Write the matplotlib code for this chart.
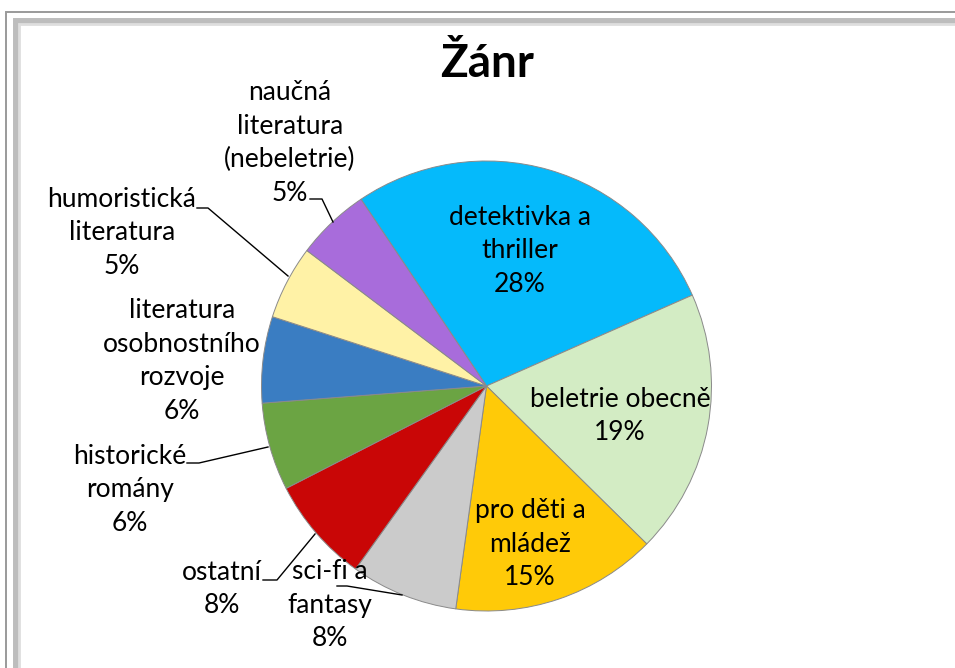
import matplotlib
matplotlib.use("Agg")
import matplotlib.pyplot as plt
from matplotlib.patches import Rectangle

# ---- data ----
categories = ["detektivka a\nthriller", "beletrie obecně", "pro děti a\nmládež",
              "sci-fi a\nfantasy", "ostatní", "historické\nromány",
              "literatura\nosobnostního\nrozvoje", "humoristická\nliteratura",
              "naučná\nliteratura\n(nebeletrie)"]
values = [27.8, 19.0, 14.8, 7.7, 7.6, 6.3, 6.2, 5.3, 5.3]
colors = ["#05BAFB", "#D3ECC4", "#FFCA08", "#CBCBCB", "#C90606",
          "#6BA443", "#3A7DC2", "#FFF2A6", "#A86CDB"]
title = "Žánr"

W, H = 955, 668
fig = plt.figure(figsize=(W / 100, H / 100), dpi=100)
ax = fig.add_axes([0, 0, 1, 1])
ax.set_xlim(0, W)
ax.set_ylim(0, H)
ax.set_aspect("equal")
ax.axis("off")

def Y(py):
    return H - py

# frame with shadow
ax.add_patch(Rectangle((6, Y(700)), 1000, 688, fill=False, edgecolor="#9A9A9A", lw=1.4))
ax.add_patch(Rectangle((16, Y(700)), 1000, 679, fill=False, edgecolor="#BDBDBD", lw=5))
ax.add_patch(Rectangle((19, Y(700)), 1000, 676, fill=False, edgecolor="#DEDEDE", lw=2))

cx, cy, r = 486.5, Y(386), 225
wedges, _ = ax.pie(values, colors=colors, startangle=123.9, counterclock=False,
                   center=(cx, cy), radius=r, frame=True,
                   wedgeprops=dict(edgecolor="#8A8A8A", linewidth=0.7))
ax.set_xlim(0, W)
ax.set_ylim(0, H)
ax.axis("off")

font = "Lato"
fs = 19
ls = 1.42

# label layout (pixel centres)
label_pos = [(520, 251), (620, 416), (530, 544), (330, 605), (222, 589),
             (130, 490), (182, 361), (122, 233), (290, 143)]
for cat, v, (px, py) in zip(categories, values, label_pos):
    ax.text(px, Y(py), f"{cat}\n{v:.0f}%", ha="center", va="center",
            fontsize=fs, family=font, linespacing=ls, color="black")

# leader lines
leaders = [
    [(310, 199), (322, 199), (333, 222)],
    [(197, 208), (208, 208), (288, 276)],
    [(187, 463), (199, 463), (268, 447)],
    [(263, 580), (277, 580), (315, 534)],
    [(337, 586), (347, 586), (402, 595)],
]
for pts in leaders:
    ax.plot([p[0] for p in pts], [Y(p[1]) for p in pts], color="black", lw=1)

ax.text(487, Y(64), title, ha="center", va="center", fontsize=33,
        fontweight="bold", family=font)

fig.savefig("out.png", dpi=100)
